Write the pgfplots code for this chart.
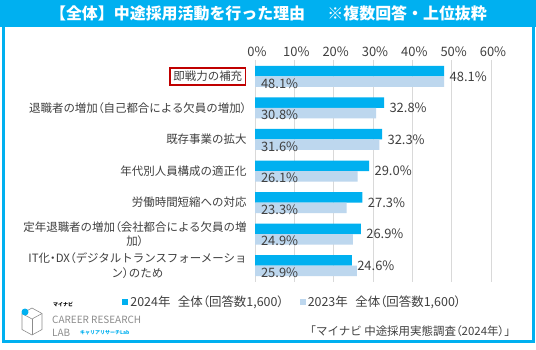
\documentclass[border=0pt]{standalone}
\usepackage{fontspec}
\setmainfont{Noto Sans CJK JP}
\usepackage{pgfplots}
\usepackage{pgfplotstable}
\pgfplotsset{compat=1.18}
\definecolor{cyanA}{HTML}{00B0F0}
\definecolor{lightB}{HTML}{BDD7EE}
\definecolor{boxred}{HTML}{C00000}
\definecolor{txt}{HTML}{404040}
\definecolor{gridc}{HTML}{D9D9D9}
\definecolor{logog}{HTML}{8C8C8C}
\setlength{\fboxrule}{1.8pt}
\setlength{\fboxsep}{2.5pt}
\newcommand{\pp}[1]{{\addfontfeatures{RawFeature=+palt}#1}}

\pgfplotstableread{
idx y2024 y2023
0 48.1 48.1
1 32.8 30.8
2 32.3 31.6
3 29.0 26.1
4 27.3 23.3
5 26.9 24.9
6 24.6 25.9
}\data

\begin{document}
\begin{tikzpicture}[x=1bp,y=1bp]
\useasboundingbox (0,0) rectangle (536,349);
\fill[white] (0,0) rectangle (536,349);
\fill[cyanA] (0,322) rectangle (536,349);
\draw[cyanA, line width=3.4bp] (3.3,7.5) rectangle (533.3,340);
\node[white, font=\fontsize{16}{18}\selectfont\bfseries] at (268.5,335.5) {【全体】中途採用活動を行った理由\hspace{1.4em}※複数回答・上位抜粋};

\begin{axis}[
  at={(255bp,67bp)}, anchor=south west, scale only axis,
  width=236bp, height=222bp,
  xmin=0, xmax=60, ymin=-0.52, ymax=6.52, y dir=reverse,
  xtick={0,10,...,60}, xticklabel={\pgfmathprintnumber{\tick}\%},
  xticklabel pos=upper,
  ytick={0,...,6},
  yticklabels={
    {\fcolorbox{boxred}{white}{即戦力の補充}},
    {退職者の増加\pp{（}自己都合による欠員の増加\pp{）}},
    {既存事業の拡大},
    {年代別人員構成の適正化},
    {労働時間短縮への対応},
    {定年退職者の増加\pp{（}会社都合による欠員の増\\加\pp{）}},
    {IT化\pp{・}DX\pp{（}デジタルトランスフォーメーショ\\ン\pp{）}のため}},
  axis line style={draw=none}, major tick style={draw=none},
  xmajorgrids, grid style={gridc, line width=0.8bp},
  /pgf/number format/assume math mode=true,
  xticklabel style={font=\fontsize{13}{15}\selectfont, text=txt, xshift=2bp},
  yticklabel style={align=center, font=\fontsize{11.5}{14.5}\selectfont, text=txt, xshift=-5bp},
  clip=false,
  legend style={at={(0.16,-0.09)}, anchor=center, draw=none, fill=none,
    font=\fontsize{12.5}{14}\selectfont, text=txt, legend columns=2,
    /tikz/every even column/.append style={column sep=14bp},
    inner sep=0pt},
]
\addplot[xbar, bar width=10.5bp, bar shift=5.25bp, fill=cyanA, draw=none,
  point meta=x,
  nodes near coords={\pgfmathprintnumber[fixed,fixed zerofill,precision=1]{\pgfplotspointmeta}\%},
  nodes near coords style={anchor=west, xshift=2bp, font=\fontsize{13}{15}\selectfont, text=txt},
  legend image code/.code={\fill[cyanA] (0bp,-3bp) rectangle (6bp,3bp);}]
  table[x=y2024, y=idx]{\data};
\addlegendentry{2024年\hspace{0.6em}全体\pp{（}回答数1,600\pp{）}}
\addplot[xbar, bar width=10.5bp, bar shift=-5.25bp, fill=lightB, draw=none,
  legend image code/.code={\fill[lightB] (0bp,-3bp) rectangle (6bp,3bp);}]
  table[x=y2023, y=idx]{\data};
\addlegendentry{2023年\hspace{0.6em}全体\pp{（}回答数1,600\pp{）}}
\addplot[draw=none, mark=none, forget plot,
  point meta=\thisrow{y2023},
  nodes near coords={\pgfmathprintnumber[fixed,fixed zerofill,precision=1]{\pgfplotspointmeta}\%},
  nodes near coords style={anchor=west, xshift=2.5bp, yshift=-7bp, font=\fontsize{13}{15}\selectfont, text=txt}]
  table[x expr=0, y=idx]{\data};
\end{axis}

% logo
\begin{scope}[logog, line width=0.6bp]
  \draw (32,41) -- (42,35.5) -- (42,19.5) -- (32,14) -- (22,19.5) -- (22,35.5) -- cycle;
  \draw (22,35.5) -- (32,30) -- (42,35.5);
  \draw (32,30) -- (32,14);
\end{scope}
\fill[cyanA] (25,37) circle (3.5);
\node[anchor=west, inner sep=0pt, font=\fontsize{5}{6}\selectfont\bfseries, text=black] at (53,44) {マイナビ};
\node[anchor=west, inner sep=0pt, font=\fontsize{10}{11}\selectfont, text=logog] at (52,29) {CAREER RESEARCH};
\node[anchor=west, inner sep=0pt, font=\fontsize{10}{11}\selectfont, text=logog] at (52,16) {LAB};
\node[anchor=west, inner sep=0pt, font=\fontsize{5}{6}\selectfont\bfseries, text=cyanA] at (80,16) {キャリアリサーチLab};
\node[anchor=east, inner sep=0pt, font=\fontsize{11.5}{13}\selectfont, text=txt] at (516,18) {「マイナビ 中途採用実態調査\pp{（}2024年\pp{）}」};
\end{tikzpicture}
\end{document}
